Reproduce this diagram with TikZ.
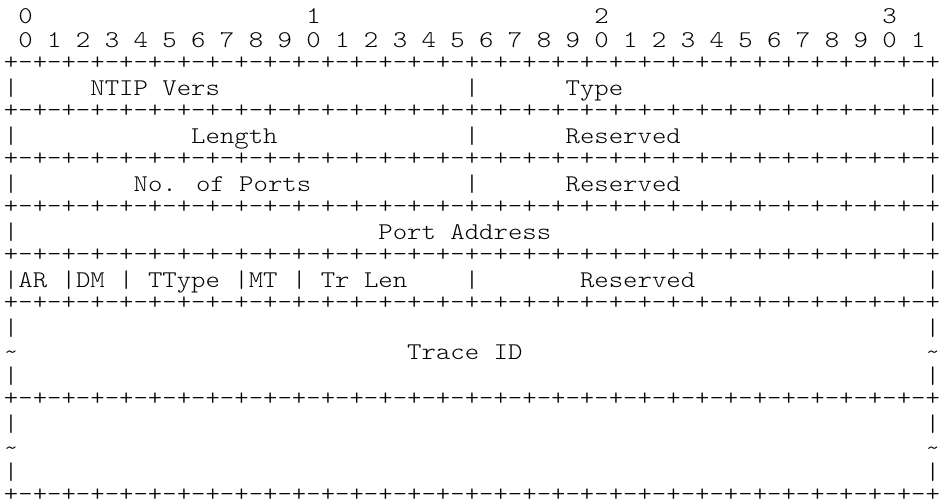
\documentclass[tikz,border=0pt]{standalone}
\usepackage{fontspec}
\newfontfamily\asciifont{lmmonolt10-regular.otf}[FakeStretch=1.142857]
\tikzset{
  ch/.style={inner sep=0pt, outer sep=0pt, anchor=base west, text=black,
             font=\asciifont\fontsize{24}{24}\selectfont},
}
% column left edge and row baseline (in px of the reference)
\newcommand\colx[1]{4+14.4*(#1)}
\newcommand\rowy[1]{23.5+24*((#1)-1)}
\newcommand\lbl[4]{\node[ch] (#1) at ({\colx{#2}},{\rowy{#3}}) {#4};}
\newcommand\seprow{+-+-+-+-+-+-+-+-+-+-+-+-+-+-+-+-+-+-+-+-+-+-+-+-+-+-+-+-+-+-+-+-+}
\begin{document}
\begin{tikzpicture}[x=1pt,y=-1pt]
\useasboundingbox (0,0) rectangle (940,502);
% bit index header
\lbl{h0}{1}{1}{0}
\lbl{h1}{21}{1}{1}
\lbl{h2}{41}{1}{2}
\lbl{h3}{61}{1}{3}
\lbl{bits}{1}{2}{0 1 2 3 4 5 6 7 8 9 0 1 2 3 4 5 6 7 8 9 0 1 2 3 4 5 6 7 8 9 0 1}
% separator rows  +-+-+ ... +
\foreach \k in {3,5,7,9,11,13,17,21}{
  \node[ch] (sep\k) at ({\colx{0}},{\rowy{\k}-2}) {\seprow};
}
% outer walls
\foreach \k in {4,6,8,10,12,14,16,18,20}{
  \node[ch] (wl\k) at ({\colx{0}},{\rowy{\k}}) {|};
  \node[ch] (wr\k) at ({\colx{64}},{\rowy{\k}}) {|};
}
\foreach \k in {15,19}{
  \node[ch] (tl\k) at ({\colx{0}},{\rowy{\k}}) {\textasciitilde};
  \node[ch] (tr\k) at ({\colx{64}},{\rowy{\k}}) {\textasciitilde};
}
% row 4
\lbl{ntip}{6}{4}{NTIP Vers}
\lbl{d4}{32}{4}{|}
\lbl{type}{39}{4}{Type}
% row 6
\lbl{length}{13}{6}{Length}
\lbl{d6}{32}{6}{|}
\lbl{res6}{39}{6}{Reserved}
% row 8
\lbl{ports}{9}{8}{No. of Ports}
\lbl{d8}{32}{8}{|}
\lbl{res8}{39}{8}{Reserved}
% row 10
\lbl{paddr}{26}{10}{Port Address}
% row 12
\lbl{ar}{1}{12}{AR}
\lbl{d12a}{4}{12}{|}
\lbl{dm}{5}{12}{DM}
\lbl{d12b}{8}{12}{|}
\lbl{ttype}{10}{12}{TType}
\lbl{d12c}{16}{12}{|}
\lbl{mt}{17}{12}{MT}
\lbl{d12d}{20}{12}{|}
\lbl{trlen}{22}{12}{Tr Len}
\lbl{d12e}{32}{12}{|}
\lbl{res12}{40}{12}{Reserved}
% row 15
\lbl{trace}{28}{15}{Trace ID}
\end{tikzpicture}
\end{document}
